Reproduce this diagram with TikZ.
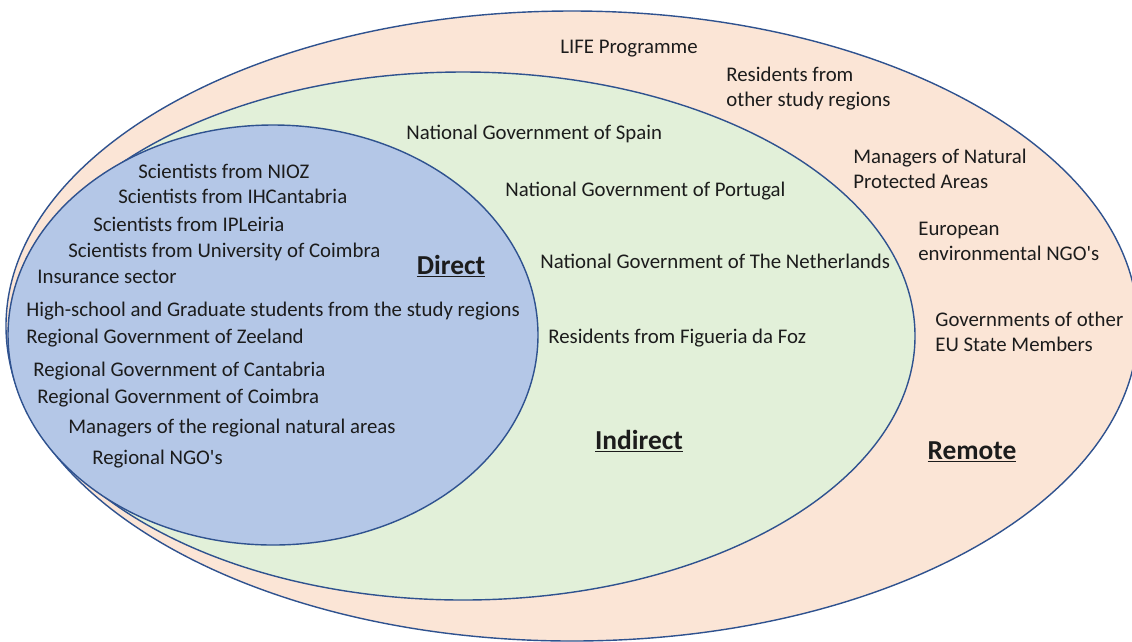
\documentclass[tikz,border=0pt]{standalone}
\usepackage{fontspec}
\setmainfont{Carlito}[Ligatures=TeXOff]
\definecolor{remotefill}{RGB}{251,229,214}
\definecolor{indirectfill}{RGB}{226,240,217}
\definecolor{directfill}{RGB}{180,199,231}
\definecolor{rimblue}{RGB}{47,82,143}
\definecolor{inkgrey}{RGB}{28,28,28}

\tikzset{
  ring/.style={draw=rimblue, line width=0.8pt},
  item/.style={anchor=base west, inner sep=0pt, text=inkgrey, align=left,
    font=\fontsize{11.85}{14.2}\selectfont},
  circlelabel/.style={anchor=base, inner sep=0pt, text=inkgrey,
    font=\fontsize{15.6}{18}\selectfont\bfseries}
}

\begin{document}
\begin{tikzpicture}[x=0.2mm, y=-0.2mm]
  \useasboundingbox (0,0) rectangle (1132,641);
  \clip (0,0) rectangle (1132,641);

  % Circles
  \draw[ring, fill=remotefill] (572,326) ellipse [x radius=566, y radius=315];
  \draw[ring, fill=indirectfill] (463,336) ellipse [x radius=452, y radius=264];
  \draw[ring, fill=directfill] (273,335) ellipse [x radius=265, y radius=210];

  % Direct
  \foreach \x/\y/\txt [count=\i] in {
      138/178/Scientists from NIOZ,
      118/203/Scientists from IHCantabria,
      93/231/Scientists from IPLeiria,
      68/257/Scientists from University of Coimbra,
      37/283/Insurance sector,
      26/316/High-school and Graduate students from the study regions,
      26/343/Regional Government of Zeeland,
      33/376/Regional Government of Cantabria,
      37/403/Regional Government of Coimbra,
      68/433/Managers of the regional natural areas,
      92/464/Regional NGO's} {
    \node[item] (direct\i) at (\x,\y) {\txt};
  }
  \node[circlelabel] (direct) at (451,274) {\underline{Direct}};

  % Indirect
  \foreach \x/\y/\txt [count=\i] in {
      406/139/National Government of Spain,
      505/196/National Government of Portugal,
      540/268/National Government of The Netherlands,
      548/343/Residents from Figueria da Foz} {
    \node[item] (indirect\i) at (\x,\y) {\txt};
  }
  \node[circlelabel] (indirect) at (639,449) {\underline{Indirect}};

  % Remote (two-line nodes sit on their last line)
  \node[item] (life) at (560,53) {LIFE Programme};
  \node[item] (residents) at (726,106) {Residents from\\other study regions};
  \node[item] (managers) at (853,188) {Managers of Natural\\Protected Areas};
  \node[item] (european) at (918,260) {European\\environmental NGO's};
  \node[item] (governments) at (935,351) {Governments of other\\EU State Members};
  \node[circlelabel] (remote) at (972,459) {\underline{Remote}};
\end{tikzpicture}
\end{document}
